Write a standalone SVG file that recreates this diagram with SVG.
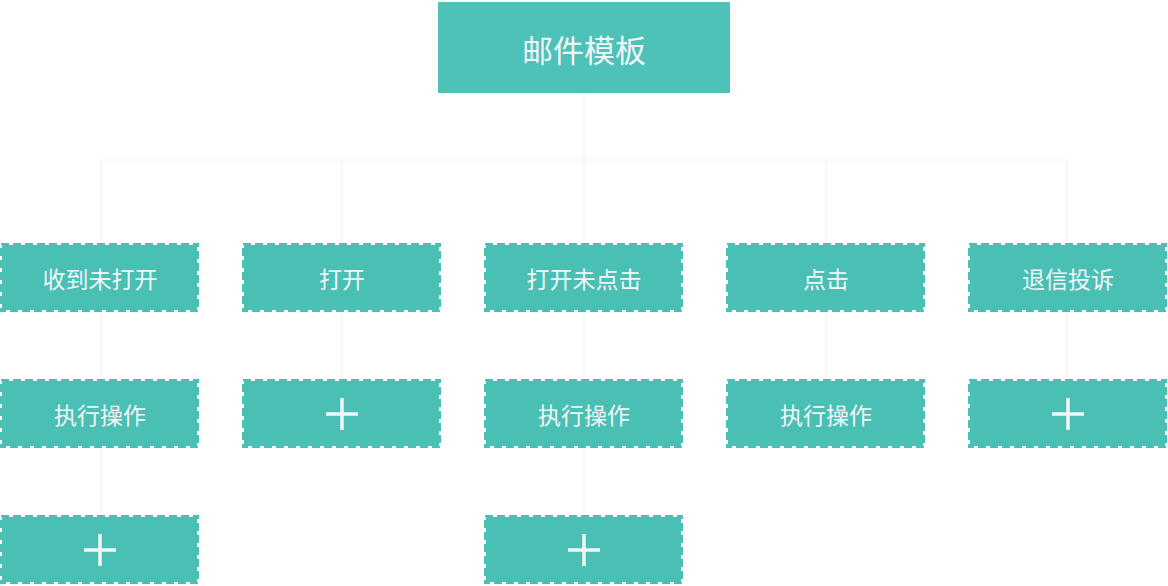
<svg xmlns="http://www.w3.org/2000/svg" width="1168" height="586" viewBox="0 0 1168 586">
<defs>
<style>
.bg{fill:#4abfb4}
.bd{fill:none;stroke:#4abfb4;stroke-width:2;stroke-dasharray:8 4}
.root{fill:#4ec1b8}
.t{fill:#f2f6f8;font-family:"Noto Sans CJK SC","Noto Sans",sans-serif;font-size:23px;text-anchor:middle;dominant-baseline:central}
.rt{fill:#f2f6f8;font-family:"Noto Sans CJK SC","Noto Sans",sans-serif;font-size:31px;text-anchor:middle;dominant-baseline:central}
.plus{stroke:#f4f6fa;stroke-width:3.5;fill:none}
.c{stroke:#f6f6f6;stroke-width:1.5;fill:none}
</style>
<g id="box"><rect class="bg" x="2" y="2" width="195" height="65"/><rect class="bd" x="1" y="1" width="197" height="67"/></g>
</defs>
<rect width="1168" height="586" fill="#ffffff"/>
<g id="connectors">
<path class="c" d="M584 93V160M101 160H1067M101 160V243M342 160V243M584 160V243M826 160V243M1067 160V243"/>
<path class="c" d="M101 312V379M342 312V379M584 312V379M826 312V379M1067 312V379M101 448V515M584 448V515"/>
</g>
<g id="root"><rect class="root" x="438" y="2" width="292" height="91"/><text class="rt" x="584" y="48">邮件模板</text></g>
<g id="n1"><use href="#box" x="0" y="243"/><text class="t" x="100" y="278">收到未打开</text></g>
<g id="n2"><use href="#box" x="242" y="243"/><text class="t" x="342" y="278">打开</text></g>
<g id="n3"><use href="#box" x="484" y="243"/><text class="t" x="584" y="278">打开未点击</text></g>
<g id="n4"><use href="#box" x="726" y="243"/><text class="t" x="826" y="278">点击</text></g>
<g id="n5"><use href="#box" x="968" y="243"/><text class="t" x="1068" y="278">退信投诉</text></g>
<g id="n6"><use href="#box" x="0" y="379"/><text class="t" x="100" y="414">执行操作</text></g>
<g id="n7"><use href="#box" x="242" y="379"/><path class="plus" d="M326 414H358M342 398V430"/></g>
<g id="n8"><use href="#box" x="484" y="379"/><text class="t" x="584" y="414">执行操作</text></g>
<g id="n9"><use href="#box" x="726" y="379"/><text class="t" x="826" y="414">执行操作</text></g>
<g id="n10"><use href="#box" x="968" y="379"/><path class="plus" d="M1052 414H1084M1068 398V430"/></g>
<g id="n11"><use href="#box" x="0" y="515"/><path class="plus" d="M84 550H116M100 534V566"/></g>
<g id="n12"><use href="#box" x="484" y="515"/><path class="plus" d="M568 550H600M584 534V566"/></g>
</svg>
